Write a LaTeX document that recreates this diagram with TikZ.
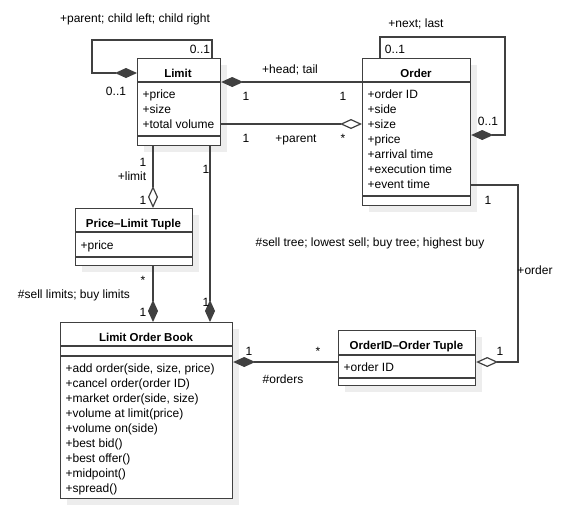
\documentclass[tikz,border=0pt]{standalone}
\usepackage{fontspec}
\setmainfont{Liberation Sans}
\usetikzlibrary{arrows.meta,calc}
\begin{document}
\begin{tikzpicture}[x=1pt,y=-1pt,
  line width=1.2pt, draw=black!75,
  cls/.style={draw=black!75,fill=white,inner sep=0pt,anchor=north west},
  t/.style={font=\fontsize{12}{14}\selectfont,inner sep=0pt,anchor=base west},
  ttl/.style={font=\fontsize{11.5}{14}\selectfont\bfseries,inner sep=0pt,anchor=base},
  lab/.style={font=\fontsize{12}{14}\selectfont,inner sep=0pt,anchor=base},
  fd/.style={-{Diamond[length=22pt,width=10pt]}},
  fds/.style={{Diamond[length=22pt,width=10pt]}-},
  od/.style={-{Diamond[open,fill=white,length=22pt,width=10pt]}},
  ods/.style={{Diamond[open,fill=white,length=22pt,width=10pt]}-}]
\useasboundingbox (0,0) rectangle (562,509);
% shadows
\foreach \a/\b/\c/\d in {137/58/220/145, 362/58/470/205, 75/208/192/265, 60/322/232/498, 338/330/475/385}
  \fill[black!7] (\a+7,\b+7) rectangle (\c+7,\d+7);
% Limit
\node[cls,minimum width=83pt,minimum height=87pt] (limit) at (137,58) {};
\draw (137,82) -- (220,82) (137,136) -- (220,136);
\node[ttl] at (178,77) {Limit};
\node[t] at (142,98) {+price};
\node[t] at (142,113) {+size};
\node[t] at (142,128) {+total volume};
% Order
\node[cls,minimum width=108pt,minimum height=147pt] (order) at (362,58) {};
\draw (362,82) -- (470,82) (362,196) -- (470,196);
\node[ttl] at (416,77) {Order};
\foreach \s [count=\i] in {+order ID,+side,+size,+price,+arrival time,+execution time,+event time}
  \node[t] at (367,83+15*\i) {\s};
% Price-Limit Tuple
\node[cls,minimum width=117pt,minimum height=57pt] (plt) at (75,208) {};
\draw (75,232) -- (192,232) (75,257) -- (192,257);
\node[ttl] at (133.5,227) {Price–Limit Tuple};
\node[t] at (80,249) {+price};
% Limit Order Book
\node[cls,minimum width=172pt,minimum height=176pt] (lob) at (60,322) {};
\draw (60,346) -- (232,346) (60,356) -- (232,356);
\node[ttl] at (146,341) {Limit Order Book};
\foreach \s [count=\i] in {{+add order(side, size, price)},{+cancel order(order ID)},{+market order(side, size)},{+volume at limit(price)},{+volume on(side)},{+best bid()},{+best offer()},{+midpoint()},{+spread()}}
  \node[t] at (65,357+15*\i) {\s};
% OrderID-Order Tuple
\node[cls,minimum width=137pt,minimum height=55pt] (oot) at (338,330) {};
\draw (338,355) -- (475,355) (338,378) -- (475,378);
\node[ttl] at (406.5,349) {OrderID–Order Tuple};
\node[t] at (343,371) {+order ID};
% connectors
\coordinate (l1) at (212,40); \coordinate (l2) at (92,40); \coordinate (l3) at (92,73);
\draw[fd] (limit.north -| l1) -- (l1) -- (l2) -- (l3) -- (l3 -| limit.west);
\node[lab] at (200,53) {0..1};
\node[lab] at (116,95) {0..1};
\node[lab] at (135,22) {+parent; child left; child right};
\draw[fds] (limit.east |- 0,82) -- (order.west |- 0,82);
\node[lab] at (290,73) {+head; tail};
\node[lab] at (246,100) {1};
\node[lab] at (343,100) {1};
\draw[od] (limit.east |- 0,124) -- (order.west |- 0,124);
\node[lab] at (246,142) {1};
\node[lab] at (296,142) {+parent};
\node[lab] at (343,142) {*};
\coordinate (o1) at (380,37); \coordinate (o2) at (505,37); \coordinate (o3) at (505,135);
\draw[fd] (order.north -| o1) -- (o1) -- (o2) -- (o3) -- (o3 -| order.east);
\node[lab] at (395,53) {0..1};
\node[lab] at (488,125) {0..1};
\node[lab] at (416,27) {+next; last};
\coordinate (p1) at (153,0);
\draw[od] (limit.south -| p1) -- (plt.north -| p1);
\node[lab] at (143,166) {1};
\node[lab] at (132,180) {+limit};
\node[lab] at (143,204) {1};
\coordinate (p2) at (210,0);
\draw[fd] (limit.south -| p2) -- (lob.north -| p2);
\node[lab] at (206,173) {1};
\node[lab] at (206,306) {1};
\node[lab] at (370,246) {\#sell tree; lowest sell; buy tree; highest buy};
\draw[fd] (plt.south -| p1) -- (lob.north -| p1);
\node[lab] at (143,284) {*};
\node[lab] at (74,298) {\#sell limits; buy limits};
\node[lab] at (143,316) {1};
\draw[fds] (lob.east |- 0,362) -- (oot.west |- 0,362);
\node[lab] at (249,355) {1};
\node[lab] at (318,355) {*};
\node[lab] at (283,383) {\#orders};
\coordinate (q1) at (518,185); \coordinate (q2) at (518,362);
\draw[od] (order.east |- q1) -- (q1) -- (q2) -- (q2 -| oot.east);
\node[lab] at (488,204) {1};
\node[lab] at (535,274) {+order};
\node[lab] at (500,355) {1};
\end{tikzpicture}
\end{document}
